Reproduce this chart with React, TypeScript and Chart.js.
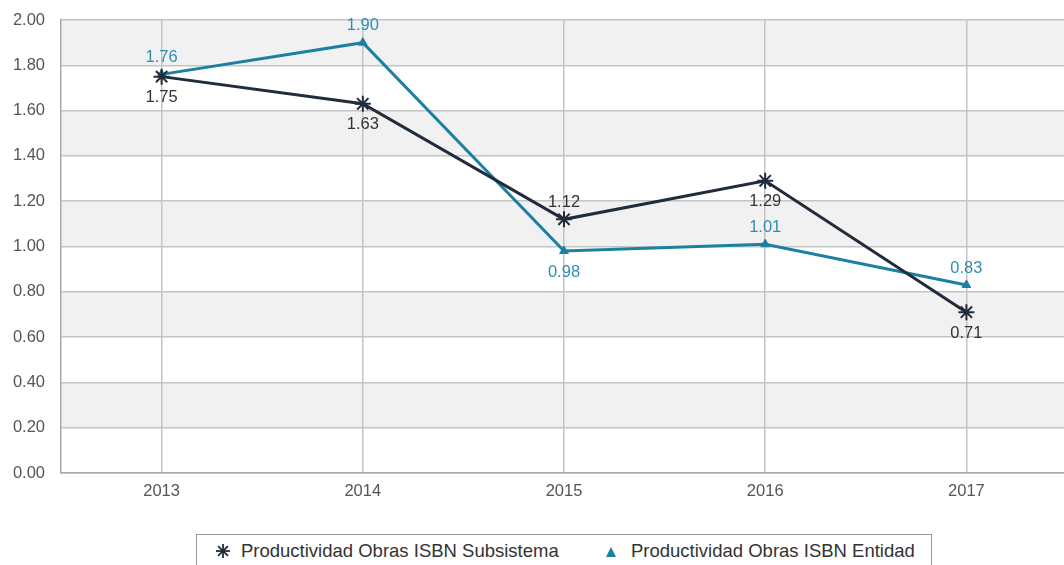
import React, { useEffect, useRef } from 'react';
import { Chart, registerables } from 'chart.js';

Chart.register(...registerables);

const categories = ['2013', '2014', '2015', '2016', '2017'];
const subsistemaValues = [1.75, 1.63, 1.12, 1.29, 0.71];
const entidadValues = [1.76, 1.9, 0.98, 1.01, 0.83];
const subsistemaLabelSide = ['below', 'below', 'above', 'below', 'below'];
const entidadLabelSide = ['above', 'above', 'below', 'above', 'above'];
const shadedBands = [
  [0.2, 0.4],
  [0.6, 0.8],
  [1.0, 1.2],
  [1.4, 1.6],
  [1.8, 2.0],
];
const seriesNames = ['Productividad Obras ISBN Subsistema', 'Productividad Obras ISBN Entidad'];

const DARK = '#212c3b';
const TEAL = '#1b80a2';
const TEAL_TEXT = '#2f8eb0';
const FONT = '"Liberation Sans", Arial, sans-serif';

const bandPlugin = {
  id: 'bands',
  beforeDraw(chart: any) {
    const { ctx, chartArea } = chart;
    const y = chart.scales.y;
    ctx.save();
    ctx.fillStyle = '#f1f1f1';
    shadedBands.forEach(([a, b]) => {
      const y1 = y.getPixelForValue(b);
      const y2 = y.getPixelForValue(a);
      ctx.fillRect(chartArea.left, y1, chartArea.right - chartArea.left, y2 - y1);
    });
    ctx.restore();
  },
};

const labelPlugin = {
  id: 'valueLabels',
  afterDatasetsDraw(chart: any) {
    const { ctx } = chart;
    const sides = [subsistemaLabelSide, entidadLabelSide];
    const colors = ['#333333', TEAL_TEXT];
    ctx.save();
    ctx.font = `16.5px ${FONT}`;
    ctx.textAlign = 'center';
    ctx.textBaseline = 'middle';
    chart.data.datasets.forEach((ds: any, di: number) => {
      const meta = chart.getDatasetMeta(di);
      meta.data.forEach((pt: any, i: number) => {
        const v = ds.data[i] as number;
        const off = sides[di][i] === 'above' ? -17 : 21;
        ctx.fillStyle = colors[di];
        ctx.fillText(v.toFixed(2), pt.x, pt.y + off);
      });
    });
    ctx.restore();
  },
};

function StarIcon() {
  const arms = [0, 45, 90, 135];
  return (
    <svg width="16" height="16" viewBox="-8 -8 16 16" style={{ position: 'absolute', left: 18, top: 8 }}>
      {arms.map((a) => {
        const r = 7;
        const rad = (a * Math.PI) / 180;
        return (
          <line
            key={a}
            x1={-r * Math.cos(rad)}
            y1={-r * Math.sin(rad)}
            x2={r * Math.cos(rad)}
            y2={r * Math.sin(rad)}
            stroke={DARK}
            strokeWidth={1.8}
          />
        );
      })}
    </svg>
  );
}

function TriangleIcon() {
  return (
    <svg width="12" height="12" viewBox="0 0 12 12" style={{ position: 'absolute', left: 408, top: 11 }}>
      <polygon points="6,1 11,11 1,11" fill={TEAL} />
    </svg>
  );
}

export default function App() {
  const canvasRef = useRef<HTMLCanvasElement | null>(null);

  useEffect(() => {
    if (!canvasRef.current) return;
    const chart = new Chart(canvasRef.current, {
      type: 'line',
      data: {
        labels: categories,
        datasets: [
          {
            label: seriesNames[0],
            data: subsistemaValues,
            borderColor: DARK,
            backgroundColor: DARK,
            borderWidth: 3,
            pointStyle: 'star',
            pointRadius: 8,
            pointBorderWidth: 2,
            pointBorderColor: DARK,
            tension: 0,
          },
          {
            label: seriesNames[1],
            data: entidadValues,
            borderColor: TEAL,
            backgroundColor: TEAL,
            borderWidth: 3,
            pointStyle: 'triangle',
            pointRadius: 5,
            pointBorderWidth: 1,
            pointBorderColor: TEAL,
            tension: 0,
          },
        ],
      },
      options: {
        animation: false,
        responsive: false,
        maintainAspectRatio: false,
        layout: { padding: { top: 20, right: 0, bottom: 0, left: 0 } },
        plugins: {
          legend: { display: false },
          tooltip: { enabled: false },
        },
        scales: {
          x: {
            offset: true,
            grid: { color: '#c4c4c4', lineWidth: 1.5, drawTicks: false, offset: false },
            border: { color: '#a9a9a9', width: 1.5 },
            ticks: { color: '#555555', font: { family: FONT, size: 16.5 }, padding: 9 },
            afterFit(scale: any) {
              scale.height = 37;
              scale.paddingLeft = 0;
              scale.paddingRight = 0;
            },
          },
          y: {
            min: 0,
            max: 2,
            grid: { color: '#c4c4c4', lineWidth: 1.5, drawTicks: false },
            border: { color: '#a9a9a9', width: 1.5 },
            ticks: {
              stepSize: 0.2,
              color: '#555555',
              font: { family: FONT, size: 16.5 },
              padding: 16,
              callback: (v: any) => Number(v).toFixed(2),
            },
            afterFit(scale: any) {
              scale.width = 61;
              scale.paddingTop = 0;
              scale.paddingBottom = 0;
            },
          },
        },
      },
      plugins: [bandPlugin, labelPlugin],
    });
    return () => chart.destroy();
  }, []);

  return (
    <div style={{ position: 'fixed', left: 0, top: 0, width: 1064, height: 565, overflow: 'hidden', background: '#fff' }}>
      <canvas
        ref={canvasRef}
        width={1077}
        height={510}
        style={{ position: 'absolute', left: 0, top: 0, width: 1077, height: 510 }}
      />
      <div
        style={{
          position: 'absolute',
          left: 196,
          top: 534,
          width: 736,
          height: 50,
          border: '1.5px solid #9a9a9a',
          boxSizing: 'border-box',
          fontFamily: FONT,
          fontSize: 18.5,
          color: '#333',
        }}
      >
        <StarIcon />
        <span style={{ position: 'absolute', left: 44, top: 5, whiteSpace: 'nowrap', lineHeight: '22px' }}>
          {seriesNames[0]}
        </span>
        <TriangleIcon />
        <span style={{ position: 'absolute', left: 434, top: 5, whiteSpace: 'nowrap', lineHeight: '22px' }}>
          {seriesNames[1]}
        </span>
      </div>
    </div>
  );
}
